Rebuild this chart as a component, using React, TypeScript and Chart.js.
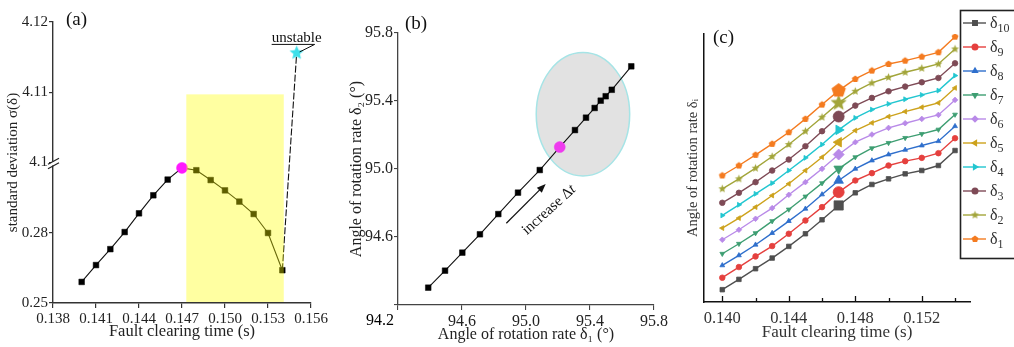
import React, { useEffect, useRef } from 'react';
import { Chart, registerables } from 'chart.js';
import { drawPoint } from 'chart.js/helpers';

Chart.register(...registerables);

const SERIF = '"Liberation Serif", "Times New Roman", Times, serif';

// ---------------- Panel (a) data ----------------
const clearingTimesA = [0.140, 0.141, 0.142, 0.143, 0.144, 0.145, 0.146, 0.147, 0.148, 0.149, 0.150, 0.151, 0.152, 0.153, 0.154, 0.155];
const sigmaA = [0.259, 0.2662, 0.273, 0.2803, 0.2883, 0.296, 0.3027, 0.3077, 0.3067, 0.3025, 0.2981, 0.2933, 0.288, 0.2799, 0.264, 4.1156];
const xTicksA = [0.138, 0.141, 0.144, 0.147, 0.150, 0.153, 0.156];
const yTicksA = [0.25, 0.28, 0.31, 0.34, 0.37];
const yTickLabelsA = ['0.25', '0.28', '4.1', '4.11', '4.12'];
const criticalIndexA = 7;
const shadedRangeA = [0.1473, 0.1541];
const shadedTopA = 4.1097;

// ---------------- Panel (b) data ----------------
const delta1B = [94.389, 94.494, 94.602, 94.712, 94.827, 94.95, 95.086, 95.211, 95.306, 95.375, 95.429, 95.467, 95.498, 95.536, 95.658];
const delta2B = [94.302, 94.402, 94.508, 94.616, 94.735, 94.861, 94.994, 95.129, 95.229, 95.302, 95.359, 95.402, 95.428, 95.466, 95.604];
const ticksB = [94.2, 94.6, 95.0, 95.4, 95.8];
const criticalIndexB = 7;
const ellipseCenterB = [95.356, 95.322];
const ellipseRadiusB = [0.292, 0.363];
const arrowFromB = [94.877, 94.681];
const arrowToB = [95.123, 94.912];
const arrowTextAtB = [95.144, 94.759];

// ---------------- Panel (c) data ----------------
const clearingTimesC = [0.140, 0.141, 0.142, 0.143, 0.144, 0.145, 0.146, 0.147, 0.148, 0.149, 0.150, 0.151, 0.152, 0.153, 0.154];
const delta1C = [38.0, 41.0, 44.2, 47.5, 51.0, 55.0, 59.3, 63.5, 67.0, 69.5, 71.5, 72.5, 73.7, 75.0, 79.7];
const delta2C = [34.0, 37.0, 40.2, 43.7, 47.3, 51.3, 55.5, 59.8, 63.3, 65.8, 67.5, 69.0, 70.2, 71.5, 76.0];
const delta3C = [29.8, 32.8, 36.0, 39.5, 42.8, 46.8, 51.3, 55.7, 59.0, 61.3, 63.3, 64.7, 66.0, 67.3, 71.7];
const delta4C = [26.0, 29.2, 32.5, 35.7, 39.5, 43.3, 47.3, 51.7, 55.3, 57.8, 59.5, 60.9, 62.2, 63.5, 68.0];
const delta5C = [22.2, 25.2, 28.5, 32.0, 35.5, 39.5, 43.5, 48.0, 51.5, 53.8, 55.7, 57.2, 58.5, 59.8, 64.3];
const delta6C = [18.7, 21.7, 25.0, 28.2, 32.2, 36.0, 40.0, 44.3, 48.0, 50.3, 52.3, 53.7, 55.0, 56.2, 60.7];
const delta7C = [14.5, 17.5, 20.7, 24.3, 27.8, 31.7, 35.7, 40.0, 43.5, 46.2, 47.8, 49.3, 50.5, 51.8, 56.3];
const delta8C = [11.0, 14.0, 17.2, 20.7, 24.3, 28.0, 32.3, 36.5, 40.0, 42.5, 44.3, 45.7, 47.0, 48.3, 52.8];
const delta9C = [7.3, 10.5, 13.7, 16.8, 20.5, 24.5, 28.5, 33.0, 36.5, 38.7, 41.0, 42.3, 43.3, 44.7, 49.2];
const delta10C = [3.7, 6.8, 10.0, 13.2, 16.7, 20.5, 24.7, 29.0, 32.8, 35.3, 37.0, 38.5, 39.5, 41.0, 45.5];
const seriesLabelsC = ['1', '2', '3', '4', '5', '6', '7', '8', '9', '10'];
const seriesValuesC = [delta1C, delta2C, delta3C, delta4C, delta5C, delta6C, delta7C, delta8C, delta9C, delta10C];
const majorTicksC = [0.140, 0.144, 0.148, 0.152];
const minorTicksC = [0.142, 0.146, 0.150, 0.154];
const criticalIndexC = 7;

const seriesStylesC = [
  { color: '#F47B20', marker: 'pentagon', rot: 0 },
  { color: '#A2A53A', marker: 'star', rot: 0 },
  { color: '#7E4A56', marker: 'circle', rot: 0 },
  { color: '#22C6D0', marker: 'triangle', rot: 90 },
  { color: '#CDA21C', marker: 'triangle', rot: -90 },
  { color: '#B98AE8', marker: 'rectRot', rot: 0 },
  { color: '#3E9E72', marker: 'triangle', rot: 180 },
  { color: '#2F6FCC', marker: 'triangle', rot: 0 },
  { color: '#E5403E', marker: 'circle', rot: 0 },
  { color: '#4F4F4F', marker: 'rect', rot: 0 },
];

// ---------------- helpers ----------------
function axisA(v: number) {
  // values above the axis break live on the upper segment (4.1 .. 4.12)
  return v > 1 ? yTicksA[2] + (v - 4.1) * 3 : v;
}

function shapeCanvas(r: number, color: string, points: number, inner: number) {
  const size = Math.ceil(r * 2 + 2);
  const c = document.createElement('canvas');
  c.width = size;
  c.height = size;
  const g = c.getContext('2d')!;
  g.fillStyle = color;
  g.beginPath();
  const n = inner > 0 ? points * 2 : points;
  for (let i = 0; i < n; i++) {
    const rad = inner > 0 && i % 2 ? r * inner : r;
    const a = -Math.PI / 2 + (i * 2 * Math.PI) / n;
    const px = size / 2 + rad * Math.cos(a);
    const py = size / 2 + rad * Math.sin(a);
    if (i === 0) g.moveTo(px, py);
    else g.lineTo(px, py);
  }
  g.closePath();
  g.fill();
  return c;
}

function markerFor(style: { color: string; marker: string }, big: boolean): any {
  if (style.marker === 'pentagon') return shapeCanvas(big ? 7.5 : 3.6, style.color, 5, 0);
  if (style.marker === 'star') return shapeCanvas(big ? 8.5 : 4.2, style.color, 5, 0.45);
  return style.marker;
}

const plainAxis = (color: string, width: number) => ({
  border: { color, width },
});

// ---------------- Panel (a) ----------------
function buildA(): any {
  const last = clearingTimesA.length - 1;
  const star = shapeCanvas(7.5, '#3DE0EA', 5, 0.45);
  const extras = {
    id: 'extrasA',
    afterDatasetsDraw(chart: any) {
      const { ctx, scales } = chart;
      const x = scales.x, y = scales.y;
      const l = x.getPixelForValue(shadedRangeA[0]);
      const r = x.getPixelForValue(shadedRangeA[1]);
      const t = y.getPixelForValue(axisA(shadedTopA));
      const b = y.getPixelForValue(yTicksA[0]) - 1;
      ctx.save();
      ctx.fillStyle = 'rgba(255,255,0,0.37)';
      ctx.fillRect(l, t, r - l, b - t);
      ctx.restore();
    },
    afterDraw(chart: any) {
      const { ctx, scales, chartArea } = chart;
      const x = scales.x, y = scales.y;
      const ax = chartArea.left;
      const by = y.getPixelForValue(yTicksA[2]) + 1;
      ctx.save();
      // axis break
      ctx.fillStyle = '#fff';
      ctx.fillRect(ax - 2, by - 2, 4, 4);
      ctx.strokeStyle = '#222';
      ctx.lineWidth = 1.3;
      for (const dy of [-2.2, 2.2]) {
        ctx.beginPath();
        ctx.moveTo(ax - 5, by + dy + 3);
        ctx.lineTo(ax + 6, by + dy - 3);
        ctx.stroke();
      }
      // panel label
      ctx.fillStyle = '#111';
      ctx.font = `19px ${SERIF}`;
      ctx.textAlign = 'left';
      ctx.textBaseline = 'alphabetic';
      ctx.fillText('(a)', 66, 25);
      // unstable annotation
      const sx = x.getPixelForValue(clearingTimesA[last]);
      const sy = y.getPixelForValue(axisA(sigmaA[last]));
      ctx.font = `15px ${SERIF}`;
      ctx.fillText('unstable', sx - 25, sy - 11);
      ctx.lineWidth = 1;
      ctx.strokeStyle = '#111';
      ctx.beginPath();
      ctx.moveTo(sx - 25, sy - 8.5);
      ctx.lineTo(sx + 18, sy - 8.5);
      ctx.lineTo(sx + 3, sy - 1);
      ctx.stroke();
      ctx.restore();
    },
  };
  return {
    type: 'scatter',
    data: {
      datasets: [
        {
          data: clearingTimesA.map((t, i) => ({ x: t, y: axisA(sigmaA[i]) })),
          showLine: true,
          borderColor: '#111',
          borderWidth: 1.1,
          segment: { borderDash: (c: any) => (c.p1DataIndex === last ? [7, 2] : undefined) },
          pointStyle: (c: any) => (c.dataIndex === last ? star : c.dataIndex === criticalIndexA ? 'circle' : 'rect'),
          pointRadius: (c: any) => (c.dataIndex === criticalIndexA ? 5.5 : 4),
          pointBackgroundColor: (c: any) => (c.dataIndex === criticalIndexA ? '#FF1AFF' : '#000'),
          pointBorderColor: (c: any) => (c.dataIndex === criticalIndexA ? '#FF1AFF' : '#000'),
          pointBorderWidth: 0.5,
        },
      ],
    },
    options: {
      responsive: false,
      animation: false,
      events: [],
      layout: { padding: { top: 22, right: 29, left: 0, bottom: 0 } },
      plugins: { legend: { display: false }, tooltip: { enabled: false } },
      scales: {
        x: {
          type: 'linear',
          min: 0.138,
          max: 0.156,
          afterBuildTicks: (s: any) => { s.ticks = xTicksA.map((v) => ({ value: v })); },
          afterFit: (s: any) => { s.height = 44; },
          ticks: { callback: (v: any) => Number(v).toFixed(3), font: { family: SERIF, size: 15 }, color: '#222', padding: 2, maxRotation: 0, autoSkip: false },
          grid: { drawOnChartArea: false, tickLength: 5, color: '#333', lineWidth: 1.2 },
          ...plainAxis('#333', 1.4),
          title: { display: true, text: 'Fault clearing time (s)', font: { family: SERIF, size: 16.5 }, color: '#222', padding: { top: 0, bottom: 5 } },
        },
        y: {
          type: 'linear',
          min: 0.25,
          max: 0.37,
          afterBuildTicks: (s: any) => { s.ticks = yTicksA.map((v) => ({ value: v })); },
          afterFit: (s: any) => { s.width = 53; },
          ticks: { callback: (_v: any, i: number) => yTickLabelsA[i], font: { family: SERIF, size: 15 }, color: '#222', padding: 1, autoSkip: false },
          grid: { drawOnChartArea: false, tickLength: 4, color: '#333', lineWidth: 1.2 },
          ...plainAxis('#333', 1.4),
          title: { display: true, text: 'standard deviation σ(δ)', font: { family: SERIF, size: 15 }, color: '#222', padding: { top: 4, bottom: 0 } },
        },
      },
    },
    plugins: [extras],
  };
}

// ---------------- Panel (b) ----------------
function buildB(): any {
  const extras = {
    id: 'extrasB',
    beforeDatasetsDraw(chart: any) {
      const { ctx, scales } = chart;
      const x = scales.x, y = scales.y;
      const cx = x.getPixelForValue(ellipseCenterB[0]);
      const cy = y.getPixelForValue(ellipseCenterB[1]);
      const rx = Math.abs(x.getPixelForValue(ellipseCenterB[0] + ellipseRadiusB[0]) - cx);
      const ry = Math.abs(y.getPixelForValue(ellipseCenterB[1] + ellipseRadiusB[1]) - cy);
      ctx.save();
      ctx.beginPath();
      ctx.ellipse(cx, cy, rx, ry, 0, 0, Math.PI * 2);
      ctx.fillStyle = '#E2E2E2';
      ctx.fill();
      ctx.strokeStyle = '#A6E4E6';
      ctx.lineWidth = 1.5;
      ctx.stroke();
      ctx.restore();
    },
    afterDraw(chart: any) {
      const { ctx, scales, chartArea } = chart;
      const x = scales.x, y = scales.y;
      const x0 = x.getPixelForValue(arrowFromB[0]), y0 = y.getPixelForValue(arrowFromB[1]);
      const x1 = x.getPixelForValue(arrowToB[0]), y1 = y.getPixelForValue(arrowToB[1]);
      const ang = Math.atan2(y1 - y0, x1 - x0);
      ctx.save();
      ctx.strokeStyle = '#111';
      ctx.fillStyle = '#111';
      ctx.lineWidth = 1.2;
      ctx.beginPath();
      ctx.moveTo(x0, y0);
      ctx.lineTo(x1 - 6 * Math.cos(ang), y1 - 6 * Math.sin(ang));
      ctx.stroke();
      ctx.beginPath();
      ctx.moveTo(x1, y1);
      ctx.lineTo(x1 - 9 * Math.cos(ang) + 3.5 * Math.sin(ang), y1 - 9 * Math.sin(ang) - 3.5 * Math.cos(ang));
      ctx.lineTo(x1 - 9 * Math.cos(ang) - 3.5 * Math.sin(ang), y1 - 9 * Math.sin(ang) + 3.5 * Math.cos(ang));
      ctx.closePath();
      ctx.fill();
      // rotated label
      const tx = x.getPixelForValue(arrowTextAtB[0]);
      const ty = y.getPixelForValue(arrowTextAtB[1]);
      ctx.translate(tx, ty);
      ctx.rotate(ang + 0.05);
      ctx.textBaseline = 'middle';
      ctx.font = `15px ${SERIF}`;
      const main = 'increase Δ';
      const wMain = ctx.measureText(main).width;
      ctx.font = `italic 15px ${SERIF}`;
      const wT = ctx.measureText('t').width;
      const start = -(wMain + wT) / 2;
      ctx.textAlign = 'left';
      ctx.font = `15px ${SERIF}`;
      ctx.fillText(main, start, 0);
      ctx.font = `italic 15px ${SERIF}`;
      ctx.fillText('t', start + wMain, 0);
      ctx.setTransform(1, 0, 0, 1, 0, 0);
      // panel label and corner tick label
      ctx.textBaseline = 'alphabetic';
      ctx.textAlign = 'left';
      ctx.font = `19px ${SERIF}`;
      ctx.fillText('(b)', chartArea.left + 7, 29);
      ctx.font = `16px ${SERIF}`;
      ctx.textAlign = 'center';
      ctx.fillStyle = '#000';
      ctx.fillText(String(ticksB[0].toFixed(1)), chartArea.left - 18, chartArea.bottom + 20);
      ctx.restore();
    },
  };
  return {
    type: 'scatter',
    data: {
      datasets: [
        {
          data: delta1B.map((v, i) => ({ x: v, y: delta2B[i] })),
          showLine: true,
          borderColor: '#111',
          borderWidth: 1.1,
          pointStyle: (c: any) => (c.dataIndex === criticalIndexB ? 'circle' : 'rect'),
          pointRadius: (c: any) => (c.dataIndex === criticalIndexB ? 5.5 : 4),
          pointBackgroundColor: (c: any) => (c.dataIndex === criticalIndexB ? '#EE3BEE' : '#000'),
          pointBorderColor: (c: any) => (c.dataIndex === criticalIndexB ? '#EE3BEE' : '#000'),
          pointBorderWidth: 0.5,
        },
      ],
    },
    options: {
      responsive: false,
      animation: false,
      events: [],
      layout: { padding: { top: 33, right: 14, left: 0, bottom: 0 } },
      plugins: { legend: { display: false }, tooltip: { enabled: false } },
      scales: {
        x: {
          type: 'linear',
          min: ticksB[0],
          max: ticksB[ticksB.length - 1],
          afterBuildTicks: (s: any) => { s.ticks = ticksB.map((v) => ({ value: v })); },
          afterFit: (s: any) => { s.height = 42; },
          ticks: { callback: (v: any, i: number) => (i === 0 ? '' : Number(v).toFixed(1)), font: { family: SERIF, size: 16 }, color: '#222', padding: 2, maxRotation: 0, autoSkip: false },
          grid: { drawOnChartArea: false, tickLength: 5, color: '#444', lineWidth: 1.1 },
          ...plainAxis('#444', 1.3),
          title: { display: true, text: 'Angle of rotation rate δ₁ (°)', font: { family: SERIF, size: 16 }, color: '#222', padding: { top: 0, bottom: 3 } },
        },
        y: {
          type: 'linear',
          min: ticksB[0],
          max: ticksB[ticksB.length - 1],
          afterBuildTicks: (s: any) => { s.ticks = ticksB.map((v) => ({ value: v })); },
          afterFit: (s: any) => { s.width = 68; },
          ticks: { callback: (v: any, i: number) => (i === 0 ? '' : Number(v).toFixed(1)), font: { family: SERIF, size: 16 }, color: '#222', padding: 1, autoSkip: false },
          grid: { drawOnChartArea: false, tickLength: 4, color: '#444', lineWidth: 1.1 },
          ...plainAxis('#444', 1.3),
          title: { display: true, text: 'Angle of rotation rate δ₂ (°)', font: { family: SERIF, size: 16 }, color: '#222', padding: { top: 17, bottom: 0 } },
        },
      },
    },
    plugins: [extras],
  };
}

// ---------------- Panel (c) ----------------
function buildC(): any {
  const datasets = seriesValuesC.map((vals, si) => {
    const st = seriesStylesC[si];
    const small = markerFor(st, false);
    const big = markerFor(st, true);
    return {
      label: 'δ' + seriesLabelsC[si],
      data: clearingTimesC.map((t, i) => ({ x: t, y: vals[i] })),
      showLine: true,
      borderColor: st.color,
      backgroundColor: st.color,
      borderWidth: 1.4,
      pointStyle: (c: any) => (c.dataIndex === criticalIndexC ? big : small),
      pointRotation: st.rot,
      pointRadius: (c: any) => (c.dataIndex === criticalIndexC ? (st.marker === 'rect' ? 6.5 : 5.5) : (st.marker === 'rect' ? 3.2 : 2.8)),
      pointBackgroundColor: st.color,
      pointBorderColor: st.color,
      pointBorderWidth: 0.8,
    };
  });
  const extras = {
    id: 'extrasC',
    afterDraw(chart: any) {
      const { ctx, scales, chartArea, width } = chart;
      const x = scales.x;
      ctx.save();
      // inward ticks
      ctx.strokeStyle = '#111';
      ctx.lineWidth = 1.3;
      for (const v of majorTicksC) {
        const px = Math.round(x.getPixelForValue(v)) + 0.5;
        ctx.beginPath();
        ctx.moveTo(px, chartArea.bottom);
        ctx.lineTo(px, chartArea.bottom - 6);
        ctx.stroke();
      }
      for (const v of minorTicksC) {
        const px = Math.round(x.getPixelForValue(v)) + 0.5;
        ctx.beginPath();
        ctx.moveTo(px, chartArea.bottom);
        ctx.lineTo(px, chartArea.bottom - 4);
        ctx.stroke();
      }
      // panel label
      ctx.fillStyle = '#111';
      ctx.font = `19px ${SERIF}`;
      ctx.textBaseline = 'alphabetic';
      ctx.textAlign = 'left';
      ctx.fillText('(c)', chartArea.left + 9, 43);
      // legend box
      const bx = 290.5, by = 10.5;
      ctx.fillStyle = '#fff';
      ctx.fillRect(bx, by, width - bx + 10, 248);
      ctx.strokeStyle = '#222';
      ctx.lineWidth = 1.6;
      ctx.strokeRect(bx, by, width - bx + 10, 248);
      for (let row = 0; row < seriesValuesC.length; row++) {
        const si = seriesValuesC.length - 1 - row;
        const st = seriesStylesC[si];
        const ry = 23 + row * 24;
        ctx.strokeStyle = st.color;
        ctx.fillStyle = st.color;
        ctx.lineWidth = 1.4;
        ctx.beginPath();
        ctx.moveTo(293, ry);
        ctx.lineTo(316, ry);
        ctx.stroke();
        drawPoint(ctx, { pointStyle: markerFor(st, false), rotation: st.rot, radius: st.marker === 'rect' ? 3.2 : 2.8, borderWidth: 0.8 } as any, 305, ry);
        ctx.fillStyle = '#333';
        ctx.font = `16px ${SERIF}`;
        ctx.fillText('δ', 320, ry + 5);
        const w = ctx.measureText('δ').width;
        ctx.font = `12px ${SERIF}`;
        ctx.fillText(seriesLabelsC[si], 320 + w, ry + 9);
      }
      ctx.restore();
    },
  };
  return {
    type: 'scatter',
    data: { datasets },
    options: {
      responsive: false,
      animation: false,
      events: [],
      layout: { padding: { top: 34, right: 44, left: 0, bottom: 0 } },
      plugins: { legend: { display: false }, tooltip: { enabled: false } },
      scales: {
        x: {
          type: 'linear',
          min: 0.1389,
          max: 0.1549,
          afterBuildTicks: (s: any) => { s.ticks = majorTicksC.map((v) => ({ value: v })); },
          afterFit: (s: any) => { s.height = 45; },
          ticks: { callback: (v: any) => Number(v).toFixed(3), font: { family: SERIF, size: 16.5 }, color: '#333', padding: 7, maxRotation: 0, autoSkip: false },
          grid: { drawOnChartArea: false, drawTicks: false },
          ...plainAxis('#111', 1.5),
          title: { display: true, text: 'Fault clearing time (s)', font: { family: SERIF, size: 17 }, color: '#333', padding: { top: 0, bottom: 4 } },
        },
        y: {
          type: 'linear',
          min: 0,
          max: 80.5,
          afterFit: (s: any) => { s.width = 34; },
          ticks: { display: false },
          grid: { drawOnChartArea: false, drawTicks: false },
          ...plainAxis('#111', 1.5),
          title: { display: true, text: 'Angle of rotation rate δᵢ', font: { family: SERIF, size: 14.5 }, color: '#333', padding: { top: 14, bottom: 0 } },
        },
      },
    },
    plugins: [extras],
  };
}

function ChartCanvas({ left, width, build }: { left: number; width: number; build: () => any }) {
  const ref = useRef<HTMLCanvasElement>(null);
  useEffect(() => {
    const chart = new Chart(ref.current as HTMLCanvasElement, build());
    return () => chart.destroy();
  }, [build]);
  return (
    <div style={{ position: 'absolute', left, top: 0, width, height: 347 }}>
      <canvas ref={ref} width={width} height={347} style={{ width, height: 347, display: 'block' }} />
    </div>
  );
}

export default function App() {
  return (
    <div style={{ position: 'absolute', left: 0, top: 0, width: 1014, height: 347, overflow: 'hidden', background: '#fff' }}>
      <ChartCanvas left={0} width={340} build={buildA} />
      <ChartCanvas left={330} width={340} build={buildB} />
      <ChartCanvas left={670} width={344} build={buildC} />
    </div>
  );
}
